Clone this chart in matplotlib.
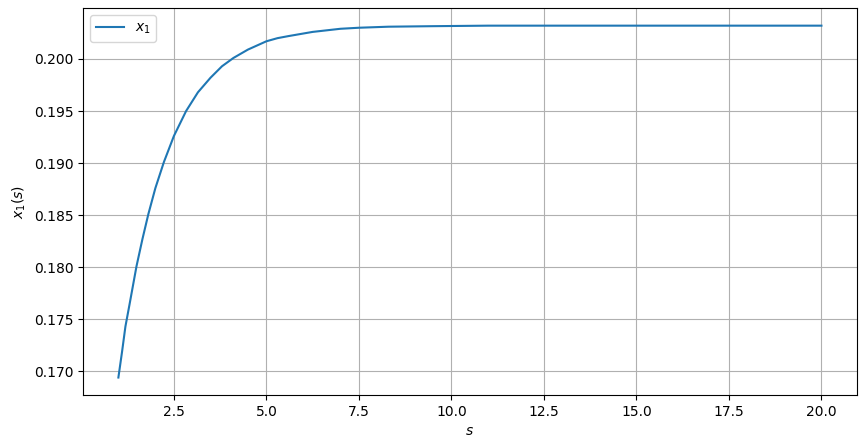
import numpy as np
import matplotlib.pyplot as plt

s = [1.0, 1.1, 1.19, 1.3, 1.49, 1.65, 1.81, 2.0, 2.23, 2.5, 2.83, 3.15, 3.49, 3.8, 4.11, 4.5, 4.75, 5.0,
     5.3, 5.6, 6.25, 7.0, 7.5, 8.3, 9.5, 11.0, 13.0, 16.0, 20.0]
x1 = [0.1694, 0.1719, 0.1743, 0.1764, 0.1801, 0.1827, 0.1851, 0.1876, 0.1901, 0.1926, 0.1950, 0.1968,
      0.1982, 0.1993, 0.2001, 0.2009, 0.2013, 0.2017, 0.2020, 0.2022, 0.2026, 0.2029, 0.2030, 0.2031,
      0.20315, 0.2032, 0.2032, 0.2032, 0.2032]

fig, ax = plt.subplots(figsize=(8.67, 4.48), dpi=100)
fig.subplots_adjust(left=0.096, right=0.988, top=0.982, bottom=0.118)

ax.plot(s, x1, label="$x_1$")
ax.set_xlabel("$s$")
ax.set_ylabel("$x_1(s)$")
ax.grid(True)
ax.legend(loc="upper left")

fig.savefig("out.png", dpi=100)
